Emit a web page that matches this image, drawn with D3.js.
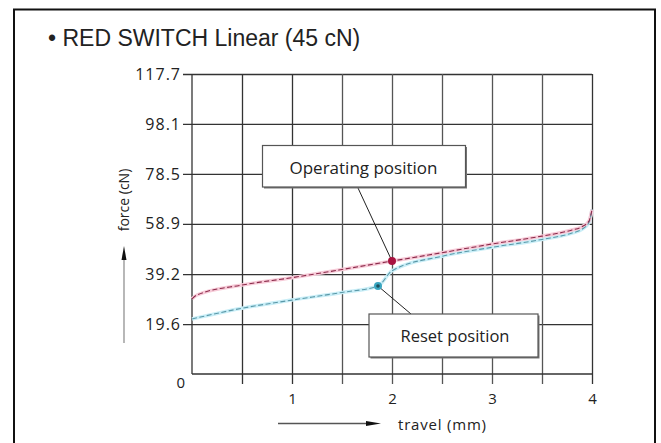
<!DOCTYPE html>
<html>
<head>
<meta charset="utf-8">
<script src="https://cdn.jsdelivr.net/npm/d3@7"></script>
<style>
  html, body { margin: 0; padding: 0; background: #fff; }
  svg { display: block; }
</style>
</head>
<body>
<svg id="chart" width="661" height="443"></svg>
<script>
// ---- data ----
const chartTitle = "• RED SWITCH Linear (45 cN)";
const yTickValues = [0, 19.6, 39.2, 58.9, 78.5, 98.1, 117.7];
const yTickLabels = ["0", "19.6", "39.2", "58.9", "78.5", "98.1", "117.7"];
const xGridValues = [0.5, 1, 1.5, 2, 2.5, 3, 3.5, 4];
const xTickValues = [1, 2, 3, 4];
const xTickLabels = ["1", "2", "3", "4"];

const operatingTravel = [0, 0.05, 0.5, 1.0, 1.5, 2.0, 2.5, 3.0, 3.5, 3.8, 3.9, 3.97, 4.0];
const operatingForce  = [29.5, 31.0, 34.9, 37.8, 41.0, 44.3, 47.6, 51.0, 54.1, 56.5, 57.8, 60.0, 64.5];
const resetTravel = [0, 0.5, 1.0, 1.5, 1.86, 2.0, 2.5, 3.0, 3.5, 3.8, 3.9, 3.97, 4.0];
const resetForce  = [21.6, 25.8, 29.0, 32.0, 34.5, 40.5, 46.2, 49.7, 52.8, 55.3, 56.8, 59.5, 64.5];

const operatingPoint = { travel: 2.0, force: 44.3, label: "Operating position" };
const resetPoint = { travel: 1.86, force: 34.5, label: "Reset position" };

const yAxisTitle = "force (cN)";
const xAxisTitle = "travel (mm)";

// ---- drawing ----
const svg = d3.select("#chart");
const x = d3.scaleLinear().domain([0, 4]).range([192, 592]);
const y = d3.scaleLinear().domain([0, 117.7]).range([374, 74]);
const fontSans = "'Open Sans', 'DejaVu Sans', sans-serif";

// outer frame
svg.append("rect").attr("x", 14).attr("y", 9.5).attr("width", 641).attr("height", 460)
  .attr("fill", "#fff").attr("stroke", "#111").attr("stroke-width", 2);

// title
svg.append("text").attr("x", 48).attr("y", 46)
  .attr("font-family", "'Liberation Sans', Arial, sans-serif")
  .attr("font-size", 23).attr("fill", "#222").text(chartTitle);

// horizontal grid + y labels
const yAx = d3.axisLeft(y)
  .tickValues(yTickValues.slice(1))
  .tickSize(-(x(4) - 183))
  .tickPadding(2)
  .tickFormat(d => yTickLabels[yTickValues.indexOf(d)]);
const gy = svg.append("g").attr("transform", "translate(183,0)").call(yAx);
gy.select(".domain").remove();
gy.selectAll(".tick line").attr("stroke", "#333").attr("stroke-width", 1.3);
gy.selectAll(".tick text").attr("font-family", fontSans).attr("font-size", 16)
  .attr("letter-spacing", 1).attr("fill", "#222");

// vertical grid + x labels
const xAx = d3.axisBottom(x)
  .tickValues(xGridValues)
  .tickSize(-(384 - y(117.7)))
  .tickPadding(9)
  .tickFormat(d => { const i = xTickValues.indexOf(d); return i >= 0 ? xTickLabels[i] : ""; });
const gx = svg.append("g").attr("transform", "translate(0,384)").call(xAx);
gx.select(".domain").remove();
gx.selectAll(".tick line").attr("stroke", d => (d === 4 || d === 1 || d === 0.5) ? "#333" : "#555")
  .attr("stroke-width", 1.3);
gx.selectAll(".tick text").attr("font-family", fontSans).attr("font-size", 15)
  .attr("fill", "#222").attr("y", 9).attr("dy", "0.71em");

// base lines at 0
svg.append("line").attr("x1", x(0)).attr("x2", x(4)).attr("y1", y(0)).attr("y2", y(0))
  .attr("stroke", "#333").attr("stroke-width", 1.3);
svg.append("line").attr("x1", x(0)).attr("x2", x(0)).attr("y1", y(0)).attr("y2", y(117.7))
  .attr("stroke", "#333").attr("stroke-width", 1.3);
svg.append("text").attr("x", 185).attr("y", 388).attr("text-anchor", "end")
  .attr("font-family", fontSans).attr("font-size", 15).attr("fill", "#222").text(yTickLabels[0]);

// curves
const line = d3.line().x(d => x(d[0])).y(d => y(d[1])).curve(d3.curveMonotoneX);
const opData = operatingTravel.map((t, i) => [t, operatingForce[i]]);
const reData = resetTravel.map((t, i) => [t, resetForce[i]]);

svg.append("path").attr("d", line(reData)).attr("fill", "none")
  .attr("stroke", "#c9eef7").attr("stroke-width", 3.5);
svg.append("path").attr("d", line(opData)).attr("fill", "none")
  .attr("stroke", "#f7cbd8").attr("stroke-width", 3.5);
svg.append("path").attr("d", line(reData)).attr("fill", "none")
  .attr("stroke", "#5a98a8").attr("stroke-width", 1.1).attr("stroke-dasharray", "5,2.5");
svg.append("path").attr("d", line(opData)).attr("fill", "none")
  .attr("stroke", "#8a2a4a").attr("stroke-width", 1.1).attr("stroke-dasharray", "5,2.5");

// annotation pointers
svg.append("line").attr("x1", 358).attr("y1", 188).attr("x2", x(operatingPoint.travel)).attr("y2", y(operatingPoint.force))
  .attr("stroke", "#222").attr("stroke-width", 1);
svg.append("line").attr("x1", x(resetPoint.travel)).attr("y1", y(resetPoint.force)).attr("x2", 411).attr("y2", 314)
  .attr("stroke", "#222").attr("stroke-width", 1);

// dots
svg.append("circle").attr("cx", x(operatingPoint.travel)).attr("cy", y(operatingPoint.force)).attr("r", 4)
  .attr("fill", "#a8123f");
svg.append("circle").attr("cx", x(resetPoint.travel)).attr("cy", y(resetPoint.force)).attr("r", 4)
  .attr("fill", "#3aa6c0");
svg.append("circle").attr("cx", x(resetPoint.travel)).attr("cy", y(resetPoint.force)).attr("r", 1.8)
  .attr("fill", "#1d4f5c");

// annotation boxes
function box(x0, y0, w, h, label, cx, by, fs) {
  svg.append("rect").attr("x", x0 + 1.5).attr("y", y0 + 1.5).attr("width", w).attr("height", h)
    .attr("fill", "#777");
  svg.append("rect").attr("x", x0).attr("y", y0).attr("width", w).attr("height", h)
    .attr("fill", "#fff").attr("stroke", "#555").attr("stroke-width", 1.2);
  svg.append("text").attr("x", cx).attr("y", by).attr("text-anchor", "middle")
    .attr("font-family", fontSans).attr("font-size", fs).attr("fill", "#222").text(label);
}
box(262.5, 145.5, 203, 41.5, operatingPoint.label, 363.5, 173.5, 17);
box(369, 314, 169, 43, resetPoint.label, 455, 341.5, 16.5);

// y axis title and arrow
svg.append("text").attr("transform", "translate(129,200) rotate(-90)").attr("text-anchor", "middle")
  .attr("font-family", fontSans).attr("font-size", 14).attr("fill", "#222").text(yAxisTitle);
svg.append("line").attr("x1", 124).attr("x2", 124).attr("y1", 343).attr("y2", 258)
  .attr("stroke", "#888").attr("stroke-width", 1.2);
svg.append("path").attr("d", "M124,246 L121.5,260 L126.5,260 Z").attr("fill", "#111");

// x axis title and arrow
svg.append("line").attr("x1", 278).attr("x2", 368).attr("y1", 423.5).attr("y2", 423.5)
  .attr("stroke", "#555").attr("stroke-width", 1.3);
svg.append("path").attr("d", "M381,423.5 L366,421 L366,426 Z").attr("fill", "#111");
svg.append("text").attr("x", 398).attr("y", 429.5)
  .attr("font-family", fontSans).attr("font-size", 15).attr("letter-spacing", 0.8)
  .attr("fill", "#222").text(xAxisTitle);
</script>
</body>
</html>
